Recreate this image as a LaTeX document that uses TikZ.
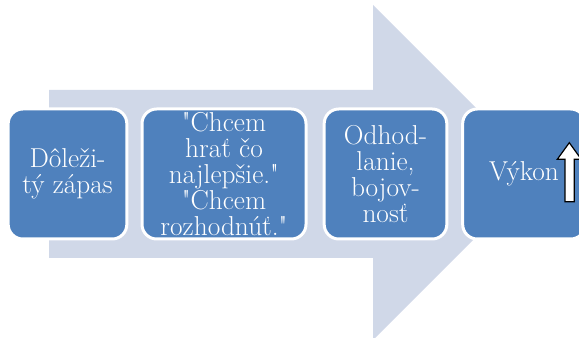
\documentclass[tikz,border=0pt]{standalone}
\usepackage{xcolor}
\usepackage{tikz}
\usetikzlibrary{positioning}

\definecolor{flowblue}{HTML}{4F81BD}
\definecolor{flowgray}{HTML}{D0D8E8}

\tikzset{
  stagebox/.style={rounded corners=11pt, fill=flowblue, draw=white, line width=2.25pt,
    text=white, align=center, minimum height=97.5pt, inner sep=1pt,
    font=\rmfamily\fontsize{20.5}{19.5}\selectfont}
}

\begin{document}
\begin{tikzpicture}[x=0.75pt,y=-0.75pt]
  \useasboundingbox (0,0) rectangle (579,338);

  % Big process arrow
  \fill[flowgray] (49,90) -- (373,90) -- (373,5) -- (540.5,172.5) -- (373,340)
    -- (373,258) -- (49,258) -- cycle;

  % Stages
  \node[stagebox, minimum width=89pt] (zapas) at (67.5,174) {Dôleži-\\tý zápas};
  \node[stagebox, minimum width=123pt] (chcem) at (224,174)
    {\textquotedbl Chcem\\hrať čo\\najlepšie.\textquotedbl\\\textquotedbl Chcem\\rozhodnúť.\textquotedbl};
  \node[stagebox, minimum width=92pt] (odhod) at (385.5,174)
    {Odhod-\\lanie,\\bojov-\\nosť};
  \node[stagebox, minimum width=92pt] (vykon) at (524,174) {Výkon};

  % Small up arrow next to the last stage
  \draw[fill=white, draw=black, line width=0.9pt]
    (565,201.7) -- (565,159.3) -- (557.3,159.3) -- (569.3,142.7) -- (581.3,159.3)
    -- (574.3,159.3) -- (574.3,201.7) -- cycle;
\end{tikzpicture}
\end{document}
